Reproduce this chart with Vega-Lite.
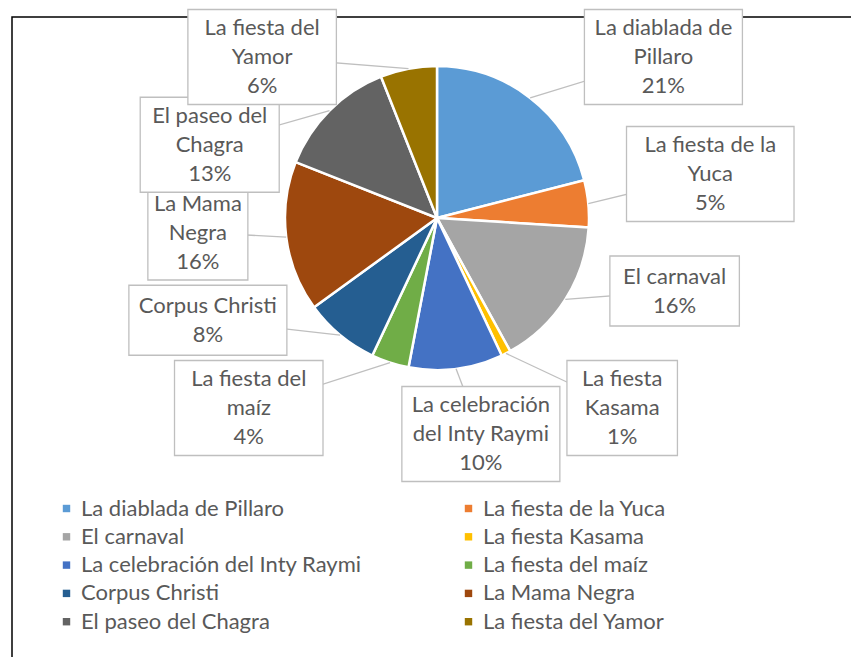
{
  "$schema": "https://vega.github.io/schema/vega-lite/v6.json",
  "width": 845,
  "height": 646,
  "autosize": {"type": "none"},
  "padding": {"left": 12, "top": 17, "right": -6, "bottom": -6},
  "background": "white",
  "config": {
    "view": {"stroke": "black", "strokeWidth": 1.5},
    "font": "Lato",
    "text": {"font": "Lato"}
  },
  "data": {
    "values": [
      {"i": 1, "label": "La diablada de Pillaro", "callout": "La diablada de|Pillaro", "value": 21},
      {"i": 2, "label": "La fiesta de la Yuca", "callout": "La fiesta de la|Yuca", "value": 5},
      {"i": 3, "label": "El carnaval", "callout": "El carnaval", "value": 16},
      {"i": 4, "label": "La fiesta Kasama", "callout": "La fiesta|Kasama", "value": 1},
      {"i": 5, "label": "La celebración del Inty Raymi", "callout": "La celebración|del Inty Raymi", "value": 10},
      {"i": 6, "label": "La fiesta del maíz", "callout": "La fiesta del|maíz", "value": 4},
      {"i": 7, "label": "Corpus Christi", "callout": "Corpus Christi", "value": 8},
      {"i": 8, "label": "La Mama Negra", "callout": "La Mama|Negra", "value": 16},
      {"i": 9, "label": "El paseo del Chagra", "callout": "El paseo del|Chagra", "value": 13},
      {"i": 10, "label": "La fiesta del Yamor", "callout": "La fiesta del|Yamor", "value": 6}
    ]
  },
  "transform": [
    {"window": [{"op": "sum", "field": "value", "as": "cum"}], "sort": [{"field": "i"}], "frame": [null, 0]},
    {"joinaggregate": [{"op": "sum", "field": "value", "as": "total"}]},
    {"calculate": "2*PI*(datum.cum - datum.value/2)/datum.total", "as": "mid"},
    {"calculate": "abs(sin(datum.mid)) < 0.2 && cos(datum.mid) < 0 ? 0 : (sin(datum.mid) > 0 ? 1 : -1)", "as": "side"},
    {"calculate": "datum.side == 1 ? datum.mid : -datum.mid", "as": "key"},
    {"window": [{"op": "rank", "as": "r"}], "groupby": ["side"], "sort": [{"field": "key"}]},
    {"joinaggregate": [{"op": "count", "as": "n"}], "groupby": ["side"]},
    {"calculate": "length(split(datum.callout, '|')) + 1", "as": "nl"},
    {"calculate": "max(length(split(datum.callout, '|')[0]), indexof(datum.callout, '|') >= 0 ? length(split(datum.callout, '|')[1]) : 0)", "as": "maxlen"},
    {"calculate": "max(9.5*datum.maxlen + 25, 100)", "as": "w"},
    {"calculate": "datum.nl == 3 ? 95 : 70", "as": "h"},
    {"calculate": "datum.side == 0 ? 216 : -161 + (datum.r - 1) * 351 / max(1, datum.n - 1)", "as": "ly"},
    {"calculate": "datum.side == 0 ? 350*sin(datum.mid) : datum.side * (80 + 110*abs(sin(datum.mid)) + datum.w/2)", "as": "lx"},
    {"calculate": "datum.lx - datum.w/2", "as": "bx1"},
    {"calculate": "datum.lx + datum.w/2", "as": "bx2"},
    {"calculate": "datum.ly - datum.h/2", "as": "by1"},
    {"calculate": "datum.ly + datum.h/2", "as": "by2"},
    {"calculate": "datum.ly - (datum.nl - 1)*14.5", "as": "ty"},
    {"calculate": "152*sin(datum.mid)", "as": "ex"},
    {"calculate": "-152*cos(datum.mid)", "as": "ey"},
    {"calculate": "datum.callout + '|' + format(datum.value/datum.total, '.0%')", "as": "txt"}
  ],
  "layer": [
    {
      "mark": {"type": "arc", "outerRadius": 152, "stroke": "white", "strokeWidth": 2.5},
      "encoding": {
        "theta": {"field": "value", "type": "quantitative", "stack": true},
        "order": {"field": "i", "type": "quantitative"},
        "x": {"datum": 0, "type": "quantitative", "scale": {"domain": [-425, 420], "nice": false, "zero": false}, "axis": null},
        "y": {"datum": 0, "type": "quantitative", "scale": {"domain": [-201, 445], "nice": false, "zero": false, "reverse": true}, "axis": null},
        "color": {
          "field": "label",
          "type": "nominal",
          "sort": null,
          "scale": {
            "domain": ["La diablada de Pillaro", "La fiesta de la Yuca", "El carnaval", "La fiesta Kasama", "La celebración del Inty Raymi", "La fiesta del maíz", "Corpus Christi", "La Mama Negra", "El paseo del Chagra", "La fiesta del Yamor"],
            "range": ["#5B9BD5", "#ED7D31", "#A5A5A5", "#FFC000", "#4472C4", "#70AD47", "#255E91", "#9E480E", "#636363", "#997300"]
          },
          "legend": {
            "title": null,
            "orient": "none",
            "direction": "horizontal",
            "legendX": 43.5,
            "legendY": 480.5,
            "columns": 2,
            "columnPadding": 95,
            "rowPadding": 6.3,
            "symbolType": "square",
            "symbolSize": 55,
            "symbolStrokeWidth": 0,
            "labelFont": "Lato",
            "labelFontSize": 22,
            "labelColor": "#595959",
            "labelOffset": 3.5,
            "labelLimit": 400
          }
        }
      }
    },
    {
      "mark": {"type": "rule", "color": "#bfbfbf", "strokeWidth": 1.3},
      "encoding": {
        "x": {"field": "ex", "type": "quantitative", "scale": {"domain": [-425, 420], "nice": false, "zero": false}, "axis": null},
        "y": {"field": "ey", "type": "quantitative", "scale": {"domain": [-201, 445], "nice": false, "zero": false, "reverse": true}, "axis": null},
        "x2": {"field": "lx"},
        "y2": {"field": "ly"}
      }
    },
    {
      "mark": {"type": "rect", "fill": "white", "stroke": "#bfbfbf", "strokeWidth": 1.3},
      "encoding": {
        "x": {"field": "bx1", "type": "quantitative", "scale": {"domain": [-425, 420], "nice": false, "zero": false}, "axis": null},
        "x2": {"field": "bx2"},
        "y": {"field": "by1", "type": "quantitative", "scale": {"domain": [-201, 445], "nice": false, "zero": false, "reverse": true}, "axis": null},
        "y2": {"field": "by2"}
      }
    },
    {
      "mark": {"type": "text", "font": "Lato", "fontSize": 22, "color": "#595959", "align": "center", "baseline": "middle", "lineBreak": "|", "lineHeight": 29},
      "encoding": {
        "x": {"field": "lx", "type": "quantitative", "scale": {"domain": [-425, 420], "nice": false, "zero": false}, "axis": null},
        "y": {"field": "ty", "type": "quantitative", "scale": {"domain": [-201, 445], "nice": false, "zero": false, "reverse": true}, "axis": null},
        "text": {"field": "txt", "type": "nominal"}
      }
    }
  ]
}
